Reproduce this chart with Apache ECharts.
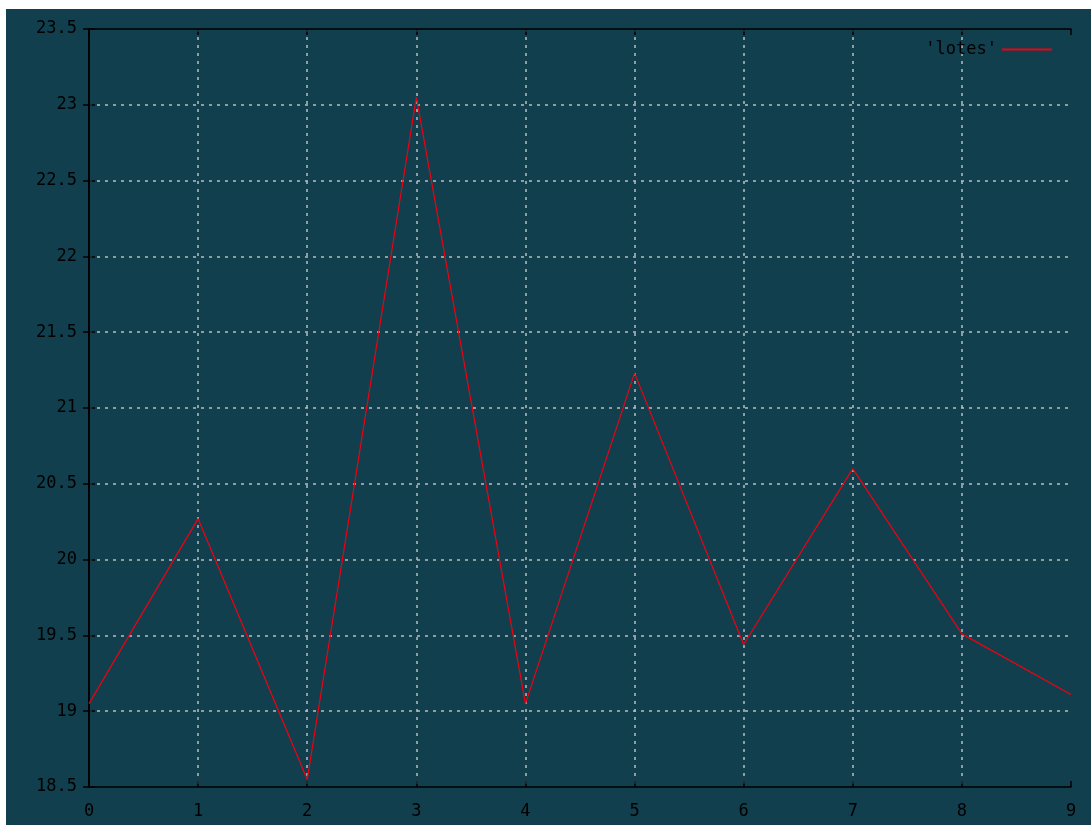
<!DOCTYPE html>
<html>
<head>
<meta charset="utf-8">
<script src="https://cdn.jsdelivr.net/npm/echarts@6/dist/echarts.min.js"></script>
<style>
  html, body { margin: 0; padding: 0; background: #ffffff; }
  #main { position: absolute; left: 6px; top: 9px; width: 1085px; height: 816px; }
</style>
</head>
<body>
<div id="main"></div>
<script>
  var seriesName = "'lotes'";
  var xValues = [0, 1, 2, 3, 4, 5, 6, 7, 8, 9];
  var yValues = [19.05, 20.27, 18.55, 23.05, 19.05, 21.23, 19.44, 20.6, 19.51, 19.11];

  var points = [];
  for (var i = 0; i < xValues.length; ++i) {
    points.push([xValues[i], yValues[i]]);
  }

  var labelFont = {
    color: '#000000',
    fontFamily: 'DejaVu Sans Mono',
    fontSize: 17,
  };
  var gridLine = {
    show: true,
    showMinLine: false,
    showMaxLine: false,
    lineStyle: { color: '#bdbdbd', width: 1.5, type: [3, 5] },
  };
  var axisLine = { show: true, lineStyle: { color: '#000000', width: 1.5 } };
  var tick = { show: true, inside: true, length: 6, lineStyle: { color: '#000000', width: 1.5 } };

  var myChart = echarts.init(document.getElementById('main'));
  var option = {
    backgroundColor: '#123f4e',
    animation: false,
    grid: { left: 83, right: 20, top: 20, bottom: 38 },
    legend: {
      data: [seriesName],
      right: 34,
      top: 27,
      align: 'right',
      icon: 'rect',
      itemWidth: 50,
      itemHeight: 2,
      itemGap: 10,
      textStyle: labelFont,
    },
    xAxis: [
      {
        type: 'value', min: 0, max: 9, interval: 1,
        axisLine: axisLine, axisTick: tick, splitLine: gridLine,
        axisLabel: Object.assign({ margin: 16 }, labelFont),
      },
      {
        type: 'value', position: 'top', min: 0, max: 9, interval: 1,
        axisLine: axisLine, axisTick: tick, splitLine: { show: false },
        axisLabel: { show: false },
      },
    ],
    yAxis: [
      {
        type: 'value', min: 18.5, max: 23.5, interval: 0.5,
        axisLine: axisLine, axisTick: tick, splitLine: gridLine,
        axisLabel: Object.assign({ margin: 12 }, labelFont),
      },
      {
        type: 'value', position: 'right', min: 18.5, max: 23.5, interval: 0.5,
        axisLine: axisLine, axisTick: tick, splitLine: { show: false },
        axisLabel: { show: false },
      },
    ],
    series: [
      {
        name: seriesName,
        type: 'line',
        data: points,
        symbol: 'none',
        lineStyle: { color: '#f00010', width: 1.2 },
        itemStyle: { color: '#f00010' },
      },
    ],
  };
  myChart.setOption(option);
</script>
</body>
</html>
